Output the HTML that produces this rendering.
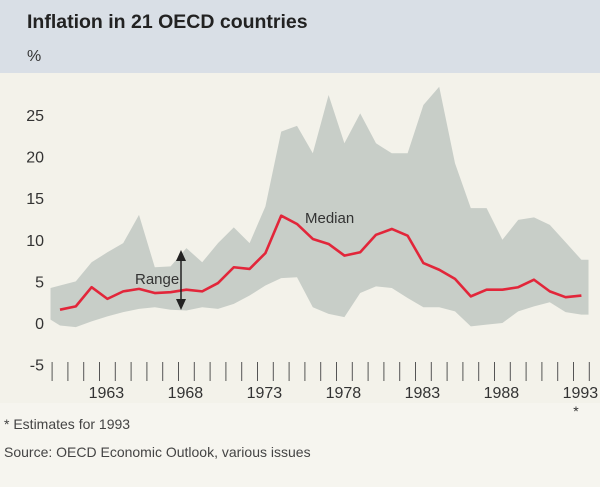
<!DOCTYPE html>
<html><head><meta charset="utf-8"><style>
body{margin:0;width:600px;height:487px;background:#f6f5ef;font-family:"Liberation Sans",sans-serif;overflow:hidden}
svg{display:block}
</style></head><body>
<svg width="600" height="487" viewBox="0 0 600 487">
<rect x="0" y="0" width="600" height="73" fill="#d9dfe6"/>
<rect x="0" y="73" width="600" height="330" fill="#f3f2ea"/>
<text x="27" y="28" font-size="19.5" font-weight="bold" fill="#222">Inflation in 21 OECD countries</text>
<text x="27" y="61" font-size="16" fill="#333">%</text>
<g id="yticks"></g>
<g id="xaxis"></g>
<path id="range" fill="#c8cec8"/>
<polyline id="median" fill="none" stroke="#e2263a" stroke-width="2.6" stroke-linejoin="round"/>
<text x="135" y="284" font-size="15" fill="#333">Range</text>
<g fill="#222" stroke="#222">
<line x1="181" y1="256" x2="181" y2="304" stroke-width="1.5"/>
<polygon points="181,250 176,261 186,261" stroke="none"/>
<polygon points="181,310 176,299 186,299" stroke="none"/>
</g>
<text x="305" y="223" font-size="15" fill="#333">Median</text>
<text x="576" y="416" font-size="14" fill="#333" text-anchor="middle">*</text>
<text x="4" y="429" font-size="14" fill="#444">* Estimates for 1993</text>
<text x="4" y="457" font-size="14" fill="#444">Source: OECD Economic Outlook, various issues</text>
</svg>
<script>
const years=[1960,1961,1962,1963,1964,1965,1966,1967,1968,1969,1970,1971,1972,1973,1974,1975,1976,1977,1978,1979,1980,1981,1982,1983,1984,1985,1986,1987,1988,1989,1990,1991,1992,1993];
const median=[1.6,2.0,4.3,2.9,3.8,4.1,3.6,3.7,4.0,3.8,4.8,6.7,6.5,8.4,12.9,11.9,10.1,9.5,8.1,8.5,10.6,11.3,10.5,7.2,6.4,5.3,3.2,4.0,4.0,4.3,5.2,3.8,3.1,3.3];
const rangeHigh=[4.5,5.0,7.3,8.5,9.6,13.0,6.7,6.8,9.0,7.3,9.6,11.5,9.6,14.0,23.0,23.7,20.4,27.4,21.6,25.2,21.6,20.4,20.4,26.2,28.4,19.2,13.8,13.8,10.0,12.4,12.7,11.8,9.7,7.6];
const rangeLow=[-0.3,-0.5,0.2,0.8,1.3,1.7,1.9,1.6,1.5,1.9,1.7,2.3,3.3,4.5,5.4,5.5,1.9,1.1,0.7,3.6,4.4,4.2,3.0,1.9,1.9,1.4,-0.4,-0.2,0.0,1.4,2.0,2.5,1.3,1.0];
const yTicks=[-5,0,5,10,15,20,25];
const xLabels=[1963,1968,1973,1978,1983,1988,1993];
const X=y=>60+(y-1960)*15.8;
const Y=v=>323-v*8.32;
const NS="http://www.w3.org/2000/svg";
const yt=document.getElementById('yticks');
yTicks.forEach(v=>{const t=document.createElementNS(NS,'text');
t.setAttribute('x',44);t.setAttribute('y',Y(v)+6);t.setAttribute('font-size','16');t.setAttribute('fill','#333');t.setAttribute('text-anchor','end');
t.textContent=v;


yt.appendChild(t);});
const xa=document.getElementById('xaxis');
for(let y=years[0]-0.5;y<=years[years.length-1]+0.51;y+=1){const l=document.createElementNS(NS,'line');
l.setAttribute('x1',X(y));l.setAttribute('x2',X(y));l.setAttribute('y1',362);l.setAttribute('y2',381);l.setAttribute('stroke','#555');l.setAttribute('stroke-width','1');


xa.appendChild(l);}
xLabels.forEach(v=>{const t=document.createElementNS(NS,'text');
t.setAttribute('x',X(v)-1);t.setAttribute('y',398);t.setAttribute('font-size','16');t.setAttribute('fill','#333');t.setAttribute('text-anchor','middle');
t.textContent=v;


xa.appendChild(t);});
const n=years.length;
let d='M'+X(years[0]-0.6)+','+Y(rangeHigh[0]-0.3);
for(let i=0;i<n;i++)d+=' L'+X(years[i])+','+Y(rangeHigh[i]);
d+=' L'+X(years[n-1]+0.45)+','+Y(rangeHigh[n-1])+' L'+X(years[n-1]+0.45)+','+Y(rangeLow[n-1]);
for(let i=n-1;i>=0;i--)d+=' L'+X(years[i])+','+Y(rangeLow[i]);
d+=' L'+X(years[0]-0.6)+','+Y(rangeLow[0]+0.7)+' Z';
document.getElementById('range').setAttribute('d',d);
document.getElementById('median').setAttribute('points',years.map((y,i)=>X(y)+','+Y(median[i])).join(' '));
</script>
</body></html>
